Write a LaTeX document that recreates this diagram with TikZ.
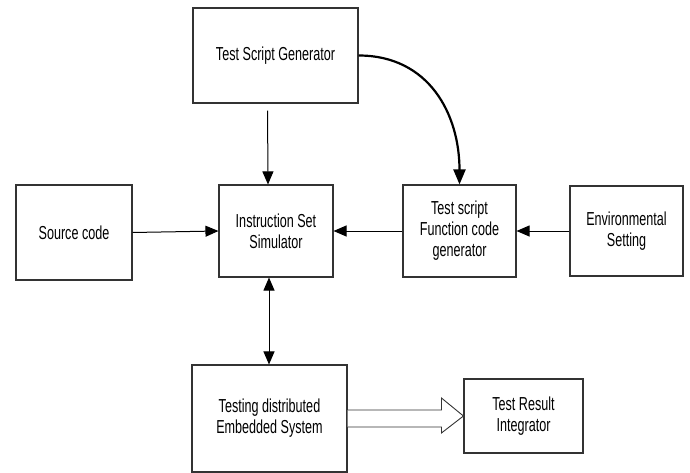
\documentclass[tikz,border=0pt]{standalone}
\usepackage{fontspec}
\setmainfont{Liberation Sans}[FakeStretch=0.67]
\usetikzlibrary{arrows.meta,calc}

\begin{document}
\begin{tikzpicture}[x=1pt,y=-1pt,every text node part/.style={align=center},
box/.style={draw=black!80,line width=1.1pt,inner sep=0pt,font=\fontsize{18.8}{21}\selectfont},
arr/.style={line width=1pt,-{Triangle[length=13pt,width=11pt]}},
biarr/.style={line width=1pt,{Triangle[length=13pt,width=11pt]}-{Triangle[length=13pt,width=11pt]}},
curvearr/.style={line width=2.2pt,-{Triangle[length=15pt,width=12pt]}},
fat/.style={draw=black!80,line width=0.9pt,fill=white}]
\useasboundingbox (0,0) rectangle (690,473);
% blocks
\node[box,minimum width=165pt,minimum height=95pt] (gen) at (275.5,55.5) {Test Script Generator};
\node[box,minimum width=114pt,minimum height=92pt] (iss) at (276,231) {Instruction Set\\Simulator};
\node[box,minimum width=113pt,minimum height=92pt] (fcg) at (459.5,231) {Test script\\Function code\\generator};
\node[box,minimum width=116pt,minimum height=95pt] (src) at (74,232.5) {Source code};
\node[box,minimum width=113pt,minimum height=90pt] (env) at (626.5,231) {Environmental\\Setting};
\node[box,minimum width=155pt,minimum height=107pt] (tdes) at (269.5,418.5) {Testing distributed\\Embedded System};
\node[box,minimum width=119pt,minimum height=74pt] (tri) at (523.5,416) {Test Result\\Integrator};
% connections
\draw[arr,shorten <=7pt] ([xshift=-8pt]gen.south) -- ([xshift=-8pt]iss.north);
\draw[curvearr] (gen.east) to[out=0,in=90,looseness=1.1] (fcg.north);
\draw[arr] (src.east) -- (iss.west);
\draw[arr] (fcg.west) -- (iss.east);
\draw[arr] (env.west) -- (fcg.east);
\draw[biarr] ([xshift=-7pt]iss.south) -- ([xshift=-7pt]iss.south |- tdes.north);
% hollow block arrow
\draw[fat] ($(tdes.east)+(0,-8.5)$) -- ($(tri.west)+(-22,-6)$) -- ($(tri.west)+(-22,-18)$)
  -- (tri.west) -- ($(tri.west)+(-22,17)$) -- ($(tri.west)+(-22,11)$) -- ($(tdes.east)+(0,8.5)$);
\end{tikzpicture}
\end{document}
